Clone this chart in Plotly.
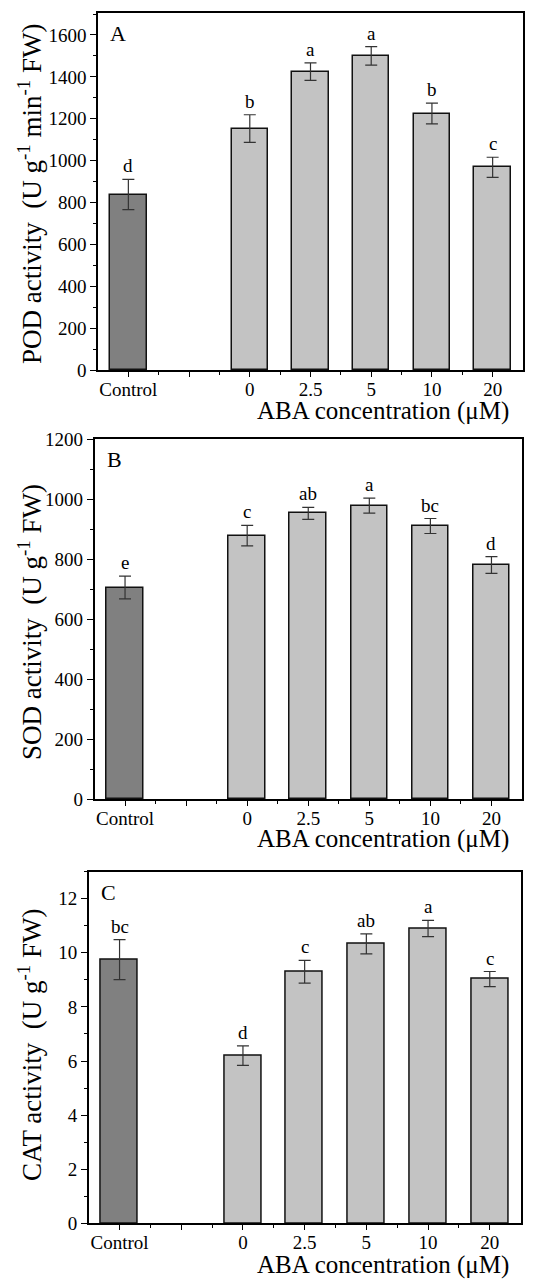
import plotly.graph_objects as go

# ---- data ----
categories = ["Control", "0", "2.5", "5", "10", "20"]

pod_mean = [838, 1153, 1425, 1500, 1225, 968]
pod_err = [72, 66, 42, 44, 50, 48]
pod_letters = ["d", "b", "a", "a", "b", "c"]

sod_mean = [705, 878, 952, 978, 910, 780]
sod_err = [38, 34, 20, 25, 25, 28]
sod_letters = ["e", "c", "ab", "a", "bc", "d"]

cat_mean = [9.75, 6.2, 9.3, 10.33, 10.9, 9.03]
cat_err = [0.74, 0.36, 0.42, 0.37, 0.3, 0.28]
cat_letters = ["bc", "d", "c", "ab", "a", "c"]

# ---- layout helpers ----
W, H = 545, 1279
FONT = "Liberation Serif, Times New Roman, serif"
xpos = [0] + [2 + i for i in range(len(categories) - 1)]
colors = ["#808080"] + ["#c3c3c3"] * (len(categories) - 1)

panels = [
    dict(mean=pod_mean, err=pod_err, letters=pod_letters, label="A",
         ytitle="POD activity&nbsp; (U g<sup>-1</sup> min<sup>-1</sup> FW)",
         px=(98, 523), py=(13, 370), yrange=[0, 1705], dtick=200, minor=100,
         xt_y=411, yt_y=194),
    dict(mean=sod_mean, err=sod_err, letters=sod_letters, label="B",
         ytitle="SOD activity&nbsp; (U g<sup>-1</sup> FW)",
         px=(94.5, 522), py=(439, 799), yrange=[0, 1200], dtick=200, minor=100,
         xt_y=839, yt_y=622),
    dict(mean=cat_mean, err=cat_err, letters=cat_letters, label="C",
         ytitle="CAT activity&nbsp; (U g<sup>-1</sup> FW)",
         px=(88.7, 520.6), py=(871.7, 1223.3), yrange=[0, 13], dtick=2, minor=1,
         xt_y=1265, yt_y=1045),
]

fig = go.Figure()
annotations = []
for i, p in enumerate(panels):
    n = "" if i == 0 else str(i + 1)
    xa, ya = "x" + n, "y" + n
    fig.add_trace(go.Bar(
        x=xpos, y=p["mean"], width=0.6, xaxis=xa, yaxis=ya,
        marker=dict(color=colors, line=dict(color="#111", width=1.5)),
        error_y=dict(type="data", array=p["err"], visible=True,
                     color="#333", thickness=1.2, width=6),
        showlegend=False, hoverinfo="skip",
    ))
    for xv, m, e, t in zip(xpos, p["mean"], p["err"], p["letters"]):
        annotations.append(dict(x=xv, y=m + e, xref=xa, yref=ya, text=t,
                                showarrow=False, yanchor="bottom", yshift=1,
                                font=dict(family=FONT, size=19, color="black")))
    x0, x1 = p["px"]
    y0, y1 = p["py"]
    axis_common = dict(showline=True, linecolor="black", linewidth=1.5,
                       mirror=True, ticks="outside", tickcolor="black",
                       tickwidth=1.2, showgrid=False, zeroline=False,
                       automargin=False,
                       tickfont=dict(family=FONT, size=19, color="black"))
    fig.update_layout(**{
        ("xaxis" + n): dict(domain=[x0 / W, x1 / W], anchor=ya,
                            range=[-0.5, 6.5], tickvals=list(range(7)),
                            ticktext=[categories[0], ""] + categories[1:],
                            ticklen=5, ticklabelstandoff=-4,
                            minor=dict(tickvals=[0.5, 1.5, 2.5, 3.5, 4.5, 5.5],
                                       ticklen=3, ticks="outside",
                                       tickcolor="black", tickwidth=1.2),
                            **axis_common),
        ("yaxis" + n): dict(domain=[1 - y1 / H, 1 - y0 / H], anchor=xa,
                            range=p["yrange"], dtick=p["dtick"], tick0=0,
                            ticklen=6,
                            minor=dict(dtick=p["minor"], ticklen=3,
                                       ticks="outside", tickcolor="black",
                                       tickwidth=1.2),
                            **axis_common),
    })
    # panel letter
    annotations.append(dict(x=0, y=1, xref=xa + " domain",
                            yref=ya + " domain", text=p["label"],
                            showarrow=False, xanchor="left", yanchor="top",
                            xshift=10, yshift=-6,
                            font=dict(family=FONT, size=22, color="black")))
    # y title
    annotations.append(dict(x=30 / W, y=1 - p["yt_y"] / H, xref="paper",
                            yref="paper", text=p["ytitle"], textangle=-90,
                            showarrow=False, xanchor="center", yanchor="middle",
                            font=dict(family=FONT, size=27, color="black")))
    # x title
    annotations.append(dict(x=511 / W, y=1 - p["xt_y"] / H, xref="paper",
                            yref="paper", text="ABA concentration (μM)",
                            showarrow=False, xanchor="right", yanchor="middle",
                            font=dict(family=FONT, size=25, color="black")))

fig.update_layout(template="none", width=W, height=H,
                  margin=dict(l=0, r=0, t=0, b=0, pad=0),
                  paper_bgcolor="white", plot_bgcolor="white",
                  annotations=annotations, bargap=0)
fig.write_html("out.html", config={"displayModeBar": False},
               post_script="document.body.style.margin='0px';"
                           "document.body.style.overflow='hidden';")
